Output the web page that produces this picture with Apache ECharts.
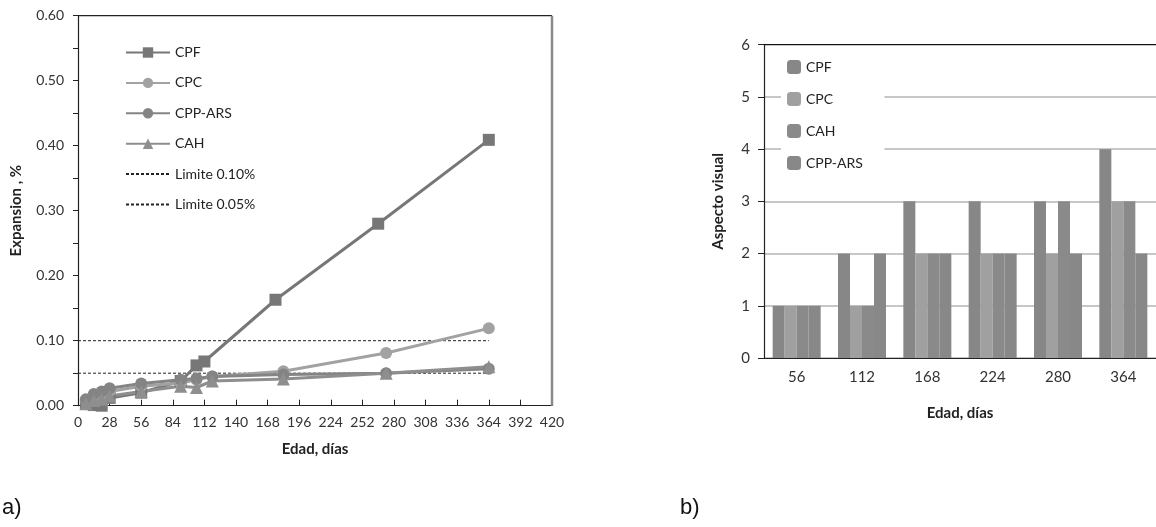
<!DOCTYPE html>
<html>
<head>
<meta charset="utf-8">
<script src="https://cdn.jsdelivr.net/npm/echarts@6/dist/echarts.min.js"></script>
<style>
html,body{margin:0;padding:0;background:#fff;}
#c{width:1156px;height:527px;}
</style>
</head>
<body>
<div id="c"></div>
<script>
// ---- Chart a) expansion vs age ----
const cpf = [[7,0.003],[14,0.001],[21,0.0],[28,0.012],[56,0.02],[91,0.038],[105,0.062],[112,0.068],[175,0.163],[266,0.28],[364,0.409]];
const cpc = [[7,0.008],[14,0.015],[21,0.018],[28,0.022],[56,0.03],[91,0.035],[105,0.04],[119,0.045],[182,0.053],[273,0.081],[364,0.119]];
const cppArs = [[7,0.01],[14,0.018],[21,0.022],[28,0.027],[56,0.034],[91,0.04],[105,0.042],[119,0.045],[182,0.048],[273,0.05],[364,0.057]];
const cah = [[7,0.003],[14,0.008],[21,0.01],[28,0.015],[56,0.022],[91,0.03],[105,0.028],[119,0.038],[182,0.041],[273,0.05],[364,0.06]];
const limit10 = [[0,0.10],[364,0.10]];
const limit05 = [[0,0.05],[364,0.05]];

// ---- Chart b) visual aspect ----
const ages = ['56','112','168','224','280','364'];
const barCPF = [1,2,3,3,3,4];
const barCPC = [1,1,2,2,2,3];
const barCAH = [1,1,2,2,3,3];
const barCPPARS = [1,2,2,2,2,2];

const FONT = 'Lato, "Open Sans", sans-serif';
const chart = echarts.init(document.getElementById('c'));

function lineSeries(name, data, color, symbol){
  return {name, type:'line', data, xAxisIndex:0, yAxisIndex:0,
    symbol, symbolSize: symbol==='triangle'?13:12,
    itemStyle:{color}, lineStyle:{color, width:3}, z: 3};
}
function barSeries(name, data, color){
  return {name, type:'bar', data, xAxisIndex:1, yAxisIndex:1, barWidth:12, barGap:'0%', itemStyle:{color}};
}

const bars = [
  barSeries('CPF ', barCPF, '#878787'),
  barSeries('CPC ', barCPC, '#a0a0a0'),
  barSeries('CAH ', barCAH, '#8a8a8a'),
  barSeries('CPP-ARS ', barCPPARS, '#888888')
];
bars[0].markLine = {silent:true, symbol:'none', label:{show:false},
  lineStyle:{color:'#111', width:1.2, type:'solid'}, data:[{yAxis:6}]};

chart.setOption({
  animation:false,
  backgroundColor:'#fff',
  textStyle:{fontFamily:FONT},
  grid:[
    {left:78, top:15.7, width:474, height:390},
    {left:764, top:44.7, width:396, height:313.3}
  ],
  legend:[
    {
      orient:'vertical', left:120, top:40.5, itemWidth:44, itemHeight:13, itemGap:16.4,
      textStyle:{fontFamily:FONT, fontSize:14, color:'#222'},
      data:['CPF','CPC','CPP-ARS','CAH',
        {name:'Limite 0.10%', itemStyle:{opacity:0}},
        {name:'Limite 0.05%', itemStyle:{opacity:0}}]
    },
    {
      orient:'vertical', left:781, top:56, itemWidth:14, itemHeight:14, itemGap:18,
      backgroundColor:'#fff', padding:[4,18,4,6],
      textStyle:{fontFamily:FONT, fontSize:14, color:'#222'},
      data:['CPF ','CPC ','CAH ','CPP-ARS ']
    }
  ],
  xAxis:[
    {type:'value', gridIndex:0, min:0, max:420, interval:28,
     name:'Edad, días', nameLocation:'middle', nameGap:36,
     nameTextStyle:{fontFamily:FONT, fontWeight:'bold', fontSize:15, color:'#222'},
     axisLine:{lineStyle:{color:'#222', width:1.2}},
     axisTick:{inside:true, length:6, lineStyle:{color:'#222'}},
     axisLabel:{fontFamily:FONT, fontSize:14, color:'#333', margin:10},
     splitLine:{show:false}},
    {type:'category', gridIndex:1, data:ages,
     name:'Edad, días', nameLocation:'middle', nameGap:48,
     nameTextStyle:{fontFamily:FONT, fontWeight:'bold', fontSize:15, color:'#222'},
     axisLine:{lineStyle:{color:'#222', width:1.2}},
     axisTick:{length:6, lineStyle:{color:'#222'}},
     axisLabel:{fontFamily:FONT, fontSize:15, color:'#333', margin:12},
     splitLine:{show:false}}
  ],
  yAxis:[
    {type:'value', gridIndex:0, min:0, max:0.6, interval:0.1,
     name:'Expansion , %', nameLocation:'middle', nameGap:54,
     nameTextStyle:{fontFamily:FONT, fontWeight:'bold', fontSize:15, color:'#222'},
     axisLine:{show:true, lineStyle:{color:'#222', width:1.2}},
     axisTick:{show:true, length:5, lineStyle:{color:'#222'}},
     minorTick:{show:true, splitNumber:2, length:5, lineStyle:{color:'#222'}},
     axisLabel:{fontFamily:FONT, fontSize:14, color:'#333', margin:14, formatter:v=>v.toFixed(2)},
     splitLine:{show:false}},
    {type:'value', gridIndex:1, min:0, max:6, interval:1,
     name:'Aspecto visual', nameLocation:'middle', nameGap:38,
     nameTextStyle:{fontFamily:FONT, fontWeight:'bold', fontSize:15, color:'#222'},
     axisLine:{show:true, lineStyle:{color:'#222', width:1.2}},
     axisTick:{show:true, length:6, lineStyle:{color:'#222'}},
     axisLabel:{fontFamily:FONT, fontSize:15, color:'#333', margin:14},
     splitLine:{show:true, lineStyle:{color:'#b5b5b5', width:1.5}}}
  ],
  graphic:[
    {type:'text', left:2, top:497, style:{text:'a)', font:'22px "Liberation Sans", Arial, sans-serif', fill:'#111'}},
    {type:'text', left:680, top:497, style:{text:'b)', font:'22px "Liberation Sans", Arial, sans-serif', fill:'#111'}}
  ],
  series:[
    lineSeries('CPF', cpf, '#777777', 'rect'),
    lineSeries('CPC', cpc, '#a2a2a2', 'circle'),
    lineSeries('CPP-ARS', cppArs, '#848484', 'circle'),
    lineSeries('CAH', cah, '#8e8e8e', 'triangle'),
    {name:'Limite 0.10%', type:'line', data:limit10, symbol:'none', xAxisIndex:0, yAxisIndex:0, z:2,
     itemStyle:{color:'#222'}, lineStyle:{color:'#222', width:1, type:[3,2]}},
    {name:'Limite 0.05%', type:'line', data:limit05, symbol:'none', xAxisIndex:0, yAxisIndex:0, z:2,
     itemStyle:{color:'#222'}, lineStyle:{color:'#222', width:1, type:[3,2]}},
    {type:'line', name:'_top', data:[[0,0.6],[420,0.6]], symbol:'none', silent:true, xAxisIndex:0, yAxisIndex:0,
     lineStyle:{color:'#222', width:1.2}, z:1},
    {type:'line', name:'_right', data:[[420,0],[420,0.6]], symbol:'none', silent:true, xAxisIndex:0, yAxisIndex:0,
     lineStyle:{color:'#8a8a8a', width:2.5}, z:1}
  ].concat(bars)
});
</script>
</body>
</html>
